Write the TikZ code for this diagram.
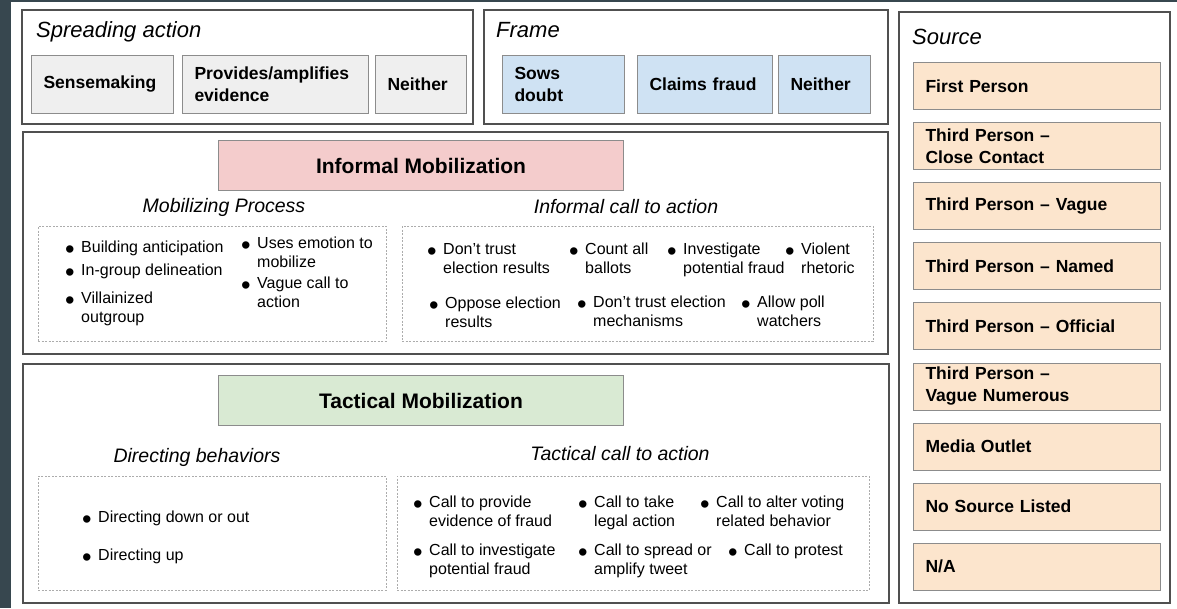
\documentclass[tikz,border=0pt]{standalone}
\usepackage{fontspec}
\setmainfont{Liberation Sans}
\usetikzlibrary{positioning}
\usetikzlibrary{fit}

\definecolor{slate}{HTML}{37474F}
\definecolor{panelgray}{HTML}{505050}
\definecolor{boxgray}{HTML}{8C8C8C}
\definecolor{spreadfill}{HTML}{EFEFEF}
\definecolor{framefill}{HTML}{CFE2F3}
\definecolor{sourcefill}{HTML}{FCE5CD}
\definecolor{informfill}{HTML}{F4CCCC}
\definecolor{tactfill}{HTML}{D9EAD3}

\tikzset{
  panel/.style={draw=panelgray, line width=1.3pt, inner sep=0pt},
  listbox/.style={draw=gray!65, line width=0.6pt, dash pattern=on 2pt off 1.5pt, inner sep=0pt},
  catbox/.style={draw=boxgray, line width=1pt, anchor=north west, inner xsep=12pt,
    inner ysep=0pt, align=left, font=\fontsize{17.5}{22}\selectfont\bfseries},
  headbox/.style={draw=boxgray, line width=1pt, anchor=north west, minimum width=405pt,
    minimum height=50pt, font=\fontsize{21}{25}\selectfont\bfseries},
  heading/.style={anchor=base west, inner sep=0pt, font=\fontsize{22}{26}\selectfont\itshape},
  subhead/.style={anchor=base, inner sep=0pt, font=\fontsize{19.5}{23}\selectfont\itshape},
  item/.style={anchor=base west, inner sep=0pt, xshift=-16pt, font=\fontsize{16}{19}\selectfont},
}

% box with its text set left, 12pt in from the edge
\newcommand{\catnode}[7]{%
  \pgfmathsetmacro{\tw}{#4-24}
  \node[catbox, fill=#6, minimum width=#4pt, minimum height=#5pt, text width=\tw pt] (#1) at (#2,#3) {#7};}
% outer and dotted frames, from their two corners
\newcommand{\panelnode}[6]{%
  \coordinate (#2-nw) at (#3,#4);
  \coordinate (#2-se) at (#5,#6);
  \node[#1, fit=(#2-nw)(#2-se)] (#2) {};}
\newcommand{\bul}[1]{\raisebox{-6pt}[0pt][0pt]{\scalebox{1.7}{\textbullet}}\hspace{6.5pt}%
  \begin{tabular}[t]{@{}l@{}}#1\end{tabular}}

\begin{document}
\begin{tikzpicture}[x=1pt, y=-1pt]
  \useasboundingbox (0,0) rectangle (1177,608);
  \fill[white] (0,0) rectangle (1177,608);
  \fill[slate] (0,0) rectangle (11,608);
  \fill[slate] (0,0) rectangle (1177,2);

  % outer panels
  \panelnode{panel}{spread}{22}{10}{473}{124}
  \panelnode{panel}{frame}{484}{10}{888}{124}
  \panelnode{panel}{source}{899}{12}{1170}{603}
  \panelnode{panel}{informal}{23}{132}{888}{354}
  \panelnode{panel}{tactical}{23}{364}{889}{603}

  \node[heading] (spread-t) at (36,37) {Spreading action};
  \node[heading] (frame-t) at (496,37) {Frame};
  \node[heading] (source-t) at (912,44) {Source};

  \catnode{sense}{31}{55}{142}{58}{spreadfill}{Sensemaking}
  \catnode{amplify}{182}{55}{186}{58}{spreadfill}{Provides/amplifies\\evidence}
  \catnode{sneither}{375}{55}{91}{58}{spreadfill}{Neither}

  \catnode{doubt}{502}{55}{122}{58}{framefill}{Sows\\doubt}
  \catnode{fraud}{637}{55}{135}{58}{framefill}{Claims fraud}
  \catnode{fneither}{778}{55}{92}{58}{framefill}{Neither}

  \foreach \lab [count=\i from 0] in {First Person, {Third Person --\\Close Contact},
      Third Person -- Vague, Third Person -- Named, Third Person -- Official,
      {Third Person --\\Vague Numerous}, Media Outlet, No Source Listed, N/A}
    {\catnode{src-\i}{913}{62+60.1*\i}{247}{47}{sourcefill}{\lab}}

  % informal mobilization
  \node[headbox, fill=informfill] (inf-head) at (218,140) {Informal Mobilization};
  \node[subhead] (mp-t) at (224,212) {Mobilizing Process};
  \node[subhead] (ic-t) at (626,213) {Informal call to action};
  \panelnode{listbox}{mp}{38}{226}{386}{341}
  \panelnode{listbox}{ic}{402}{226}{873}{341}

  \node[item] (mp-1) at (81,252) {\bul{Building anticipation}};
  \node[item] (mp-2) at (81,275) {\bul{In-group delineation}};
  \node[item] (mp-3) at (81,303) {\bul{Villainized\\outgroup}};
  \node[item] (mp-4) at (257,248) {\bul{Uses emotion to\\mobilize}};
  \node[item] (mp-5) at (257,288) {\bul{Vague call to\\action}};

  \node[item] (ic-1) at (443,254) {\bul{Don't trust\\election results}};
  \node[item] (ic-2) at (585,254) {\bul{Count all\\ballots}};
  \node[item] (ic-3) at (683,254) {\bul{Investigate\\potential fraud}};
  \node[item] (ic-4) at (801,254) {\bul{Violent\\rhetoric}};
  \node[item] (ic-5) at (445,308) {\bul{Oppose election\\results}};
  \node[item] (ic-6) at (593,307) {\bul{Don't trust election\\mechanisms}};
  \node[item] (ic-7) at (757,307) {\bul{Allow poll\\watchers}};

  % tactical mobilization
  \node[headbox, fill=tactfill] (tac-head) at (218,375) {Tactical Mobilization};
  \node[subhead] (db-t) at (197,462) {Directing behaviors};
  \node[subhead] (tc-t) at (620,460) {Tactical call to action};
  \panelnode{listbox}{db}{38}{476}{386}{590}
  \panelnode{listbox}{tc}{397}{476}{869}{590}

  \node[item] (db-1) at (98,522) {\bul{Directing down or out}};
  \node[item] (db-2) at (98,560) {\bul{Directing up}};

  \node[item] (tc-1) at (429,507) {\bul{Call to provide\\evidence of fraud}};
  \node[item] (tc-2) at (594,507) {\bul{Call to take\\legal action}};
  \node[item] (tc-3) at (716,507) {\bul{Call to alter voting\\related behavior}};
  \node[item] (tc-4) at (429,555) {\bul{Call to investigate\\potential fraud}};
  \node[item] (tc-5) at (594,555) {\bul{Call to spread or\\amplify tweet}};
  \node[item] (tc-6) at (744,555) {\bul{Call to protest}};
\end{tikzpicture}
\end{document}
